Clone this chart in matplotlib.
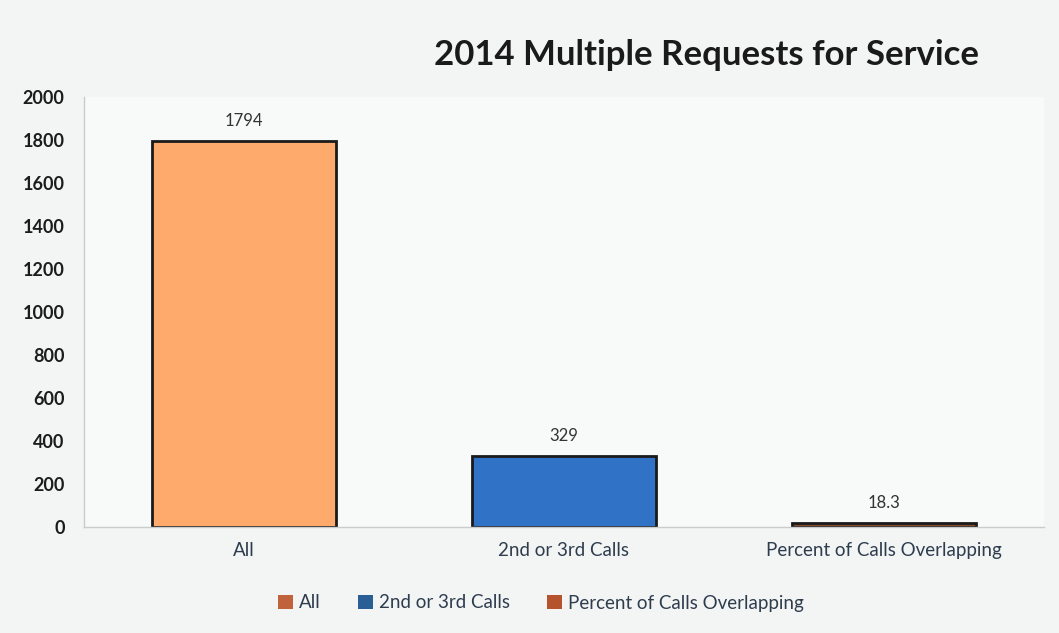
import matplotlib.pyplot as plt
from matplotlib.patches import Patch

categories = ['All', '2nd or 3rd Calls', 'Percent of Calls Overlapping']
values = [1794, 329, 18.3]
value_labels = ['1794', '329', '18.3']
bar_colors = ['#fdaa6c', '#2f72c6', '#8a4a2a']
legend_colors = ['#c0633c', '#2a5f96', '#b4532c']

plt.rcParams['font.family'] = ['Lato', 'DejaVu Sans']

fig = plt.figure(figsize=(10.59, 6.33), dpi=100, facecolor='#f3f4f4')
ax = fig.add_axes([84 / 1059, 1 - 527 / 633, 960 / 1059, 430 / 633])
ax.set_facecolor('#f8f9f9')

x = range(len(categories))
ax.bar(x, values, width=0.575, color=bar_colors, edgecolor='#1a1a1a', linewidth=2)

for i, (v, lab) in enumerate(zip(values, value_labels)):
    ax.annotate(lab, (i, v), xytext=(0, 9), textcoords='offset points',
                ha='center', va='bottom', fontsize=12, color='#333333')

ax.set_xlim(-0.5, 2.5)
ax.set_ylim(0, 2000)
ax.set_yticks(range(0, 2001, 200))
ax.set_xticks(list(x))
ax.set_xticklabels(categories, fontsize=13.5, color='#2e3d4e')
ax.tick_params(axis='y', labelsize=13, labelcolor='#1c1c1c', length=0, pad=14)
ax.tick_params(axis='x', length=0, pad=11)
for lab in ax.get_yticklabels():
    lab.set_fontweight('bold')

for side in ['top', 'right']:
    ax.spines[side].set_visible(False)
for side in ['left', 'bottom']:
    ax.spines[side].set_color('#c8cccc')
    ax.spines[side].set_linewidth(1)

fig.text(706 / 1059, 1 - 55 / 633, '2014 Multiple Requests for Service',
         ha='center', va='center', fontsize=25, fontweight='bold', color='#1a1a1a')

handles = [Patch(facecolor=c, edgecolor='none') for c in legend_colors]
fig.legend(handles, categories, loc='center', bbox_to_anchor=(541 / 1059, 1 - 603 / 633),
           ncol=3, frameon=False, fontsize=13.5, handlelength=0.8, handleheight=0.8,
           handletextpad=0.3, columnspacing=2.0, labelcolor='#2e3d4e')

fig.savefig('out.png', dpi=100, facecolor=fig.get_facecolor())
